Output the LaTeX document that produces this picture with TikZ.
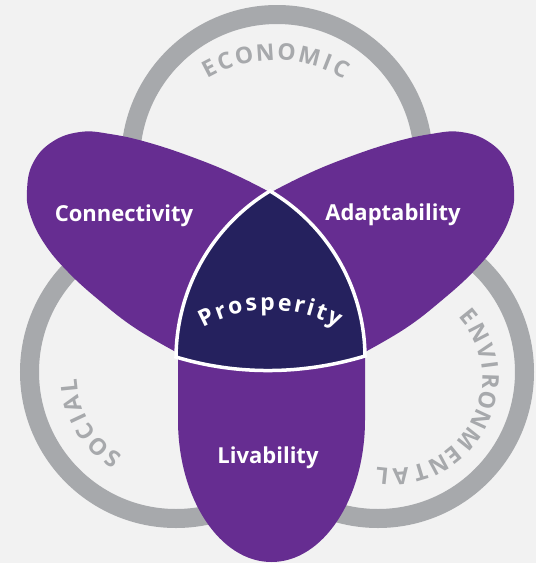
\documentclass[tikz,border=0pt]{standalone}
\usepackage{fontspec}
\setmainfont{Open Sans}
\usetikzlibrary{calc}
\definecolor{bggrey}{HTML}{F2F2F2}
\definecolor{ringgrey}{HTML}{A7A9AC}
\definecolor{petalpurple}{HTML}{662D91}
\definecolor{corenavy}{HTML}{25215E}

\begin{document}
\begin{tikzpicture}
			[x=1pt, y=-1pt,
			 ring/.style={draw=ringgrey, line width=19pt},
			 petal/.style={fill=petalpurple},
			 core/.style={fill=corenavy, draw=white, line width=3.5pt},
			 pillar/.style={text=white, font=\bfseries\fontsize{22}{26}\selectfont, inner sep=0pt, anchor=base},
			 ringletter/.style={text=ringgrey, font=\bfseries\fontsize{23}{27}\selectfont, inner sep=0pt},
			 coreletter/.style={text=white, font=\bfseries\fontsize{23}{27}\selectfont, inner sep=0pt, anchor=base}]
			\fill[bggrey] (0,0) rectangle (536,563);
			\useasboundingbox (0,0) rectangle (536,563);

			\coordinate (eco) at (277,161);
			\coordinate (soc) at (176,372);
			\coordinate (env) at (378,372);
			\draw[ring] (eco) circle[radius=146.5];
			\draw[ring] (soc) circle[radius=146.5];
			\draw[ring] (env) circle[radius=146.5];

			\coordinate (ecotext) at (275,195);
			\coordinate (soctext) at (168,376);
			\coordinate (envtext) at (392,378);
			\foreach \ch/\ang/\rot [count=\i] in {E/-117.5/27.5, C/-110.5/20.5, O/-102.54/12.54, N/-93.95/3.95,
			    O/-85.36/-4.64, M/-75.93/-14.07, I/-68.47/-21.53, C/-62.49/-27.51}
			  \node[ringletter, rotate=\rot] (eco\i) at ($(ecotext)+(\ang:143)$) {\ch};
			\foreach \ch/\ang/\rot [count=\i] in {S/-236.5/146.5, O/-225.5/135.5, C/-213.9/123.9,
			    I/-205.2/115.2, A/-196.2/106.2, L/-185.8/95.8}
			  \node[ringletter, rotate=\rot] (soc\i) at ($(soctext)+(\ang:99.5)$) {\ch};
			\foreach \ch/\ang/\rot [count=\i] in {E/-38.9/-51.1, N/-27.4/-62.6, V/-15.7/-74.3, I/-7.3/-82.7,
			    R/2.0/-92, O/13.2/-103.2, N/25.0/-115, M/38.5/-128.5, E/51.0/-141, N/61.9/-151.9,
			    T/73.3/-163.3, A/84.8/-174.8, L/95.8/-185.8}
			  \node[ringletter, rotate=\rot] (env\i) at ($(envtext)+(\ang:98.5)$) {\ch};

			\fill[petal] (270,300) -- plot[smooth, tension=0.7] coordinates {(176,352) (135,328) (100,301) (68,272) (44,243) (30,214) (27,190) (33,163) (52,142) (80,132) (110,134) (150,143) (200,160) (240,177) (275,195)} -- cycle;
			\fill[petal] (271,300) -- plot[smooth, tension=0.7] coordinates {(365,352) (406,328) (441,301) (473,272) (497,243) (511,214) (514,190) (508,163) (489,142) (461,132) (431,134) (391,143) (341,160) (301,177) (266,195)} -- cycle;
			\fill[petal] (178,340) -- (178,420) arc[start angle=180, end angle=0, x radius=93.5, y radius=142] -- (365,340) -- cycle;

			\coordinate (top) at (270,191);
			\coordinate (right) at (365,356);
			\coordinate (left) at (176,357);
			\filldraw[core] (top) .. controls (328.3,225.6) and (364.4,288.2) .. (right)
			  .. controls (303.4,374.7) and (237.6,375.7) .. (left)
			  .. controls (176.6,288.2) and (212.7,225.6) .. (top) -- cycle;

			\coordinate (prostext) at (270,448);
			\foreach \ch/\ang/\rot [count=\i] in {P/-116.03/26.03, r/-109.88/19.88, o/-103.88/13.88, s/-97.49/7.49,
			    p/-91.01/1.01, e/-84.10/-5.90, r/-78.21/-11.79, i/-73.73/-16.27, t/-69.22/-20.78, y/-63.50/-26.50}
			  \node[coreletter, rotate=\rot] (pros\i) at ($(prostext)+(\ang:138)$) {\ch};

			\node[pillar] (connectivity) at (124,221) {Connectivity};
			\node[pillar] (adaptability) at (393,220) {Adaptability};
			\node[pillar] (livability) at (268,463) {Livability};
		\end{tikzpicture}
\end{document}
